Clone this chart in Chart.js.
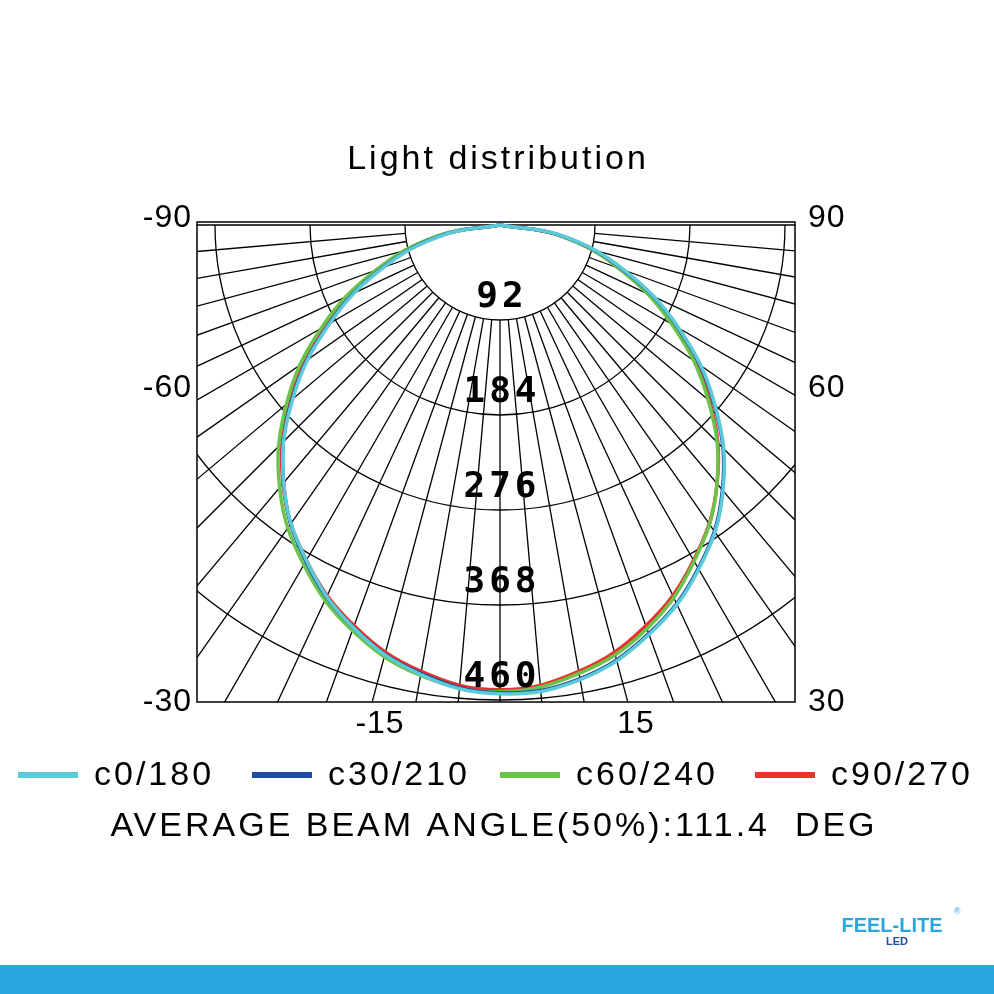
<!DOCTYPE html>
<html><head><meta charset="utf-8">
<script src="https://cdn.jsdelivr.net/npm/chart.js@4"></script>
<style>html,body{margin:0;padding:0;background:#fff}#w{width:994px;height:994px;position:relative}</style>
</head><body><div id="w"><canvas id="c" width="994" height="994"></canvas></div>
<script>
const angles=[-90,-80,-70,-60,-50,-40,-30,-20,-10,0,10,20,30,40,50,60,70,80,90];
const c0_180=[0,56,120,190,262,326,375,415,442,454,447,422,385,336,272,200,128,62,0];
const c30_210=[0,57,121,191,263,326,376,415,441,453,446,421,384,335,271,199,127,61,0];
const c60_240=[0,62,128,200,270,332,380,418,443,452,441,416,376,327,263,192,122,59,0];
const c90_270=[0,59,124,194,265,327,375,413,439,450,439,413,375,327,265,194,124,59,0];
const ringLabels=[92,184,276,368,460];
const leftLabels=['-90','-60','-30'];
const rightLabels=['90','60','30'];
const bottomLabels=['-15','15'];
const names=['c0/180','c30/210','c60/240','c90/270'];
const colors=['#5ccbd9','#1f4ea6','#6cc34a','#e8322b'];
const series=[c0_180,c30_210,c60_240,c90_270];
function toXY(arr){return arr.map((r,i)=>{const t=angles[i]*Math.PI/180;return {x:r*Math.sin(t),y:-r*Math.cos(t)};});}
const K=475/460;
const grid={id:'grid',
beforeDatasetsDraw(ch){const {ctx,chartArea:a,scales:{x,y}}=ch;ctx.save();
ctx.beginPath();ctx.rect(a.left,a.top,a.right-a.left,a.bottom-a.top);ctx.clip();
ctx.strokeStyle='#000';ctx.lineWidth=1.3;
const cx=x.getPixelForValue(0),cy=y.getPixelForValue(0);const pr=v=>x.getPixelForValue(v)-cx;
for(let k=1;k<=7;k++){ctx.beginPath();ctx.arc(cx,cy,pr(92*k),0,Math.PI);ctx.stroke();}
for(let d=-85;d<=85;d+=5){const t=d*Math.PI/180;ctx.beginPath();ctx.moveTo(cx+pr(92)*Math.sin(t),cy+pr(92)*Math.cos(t));ctx.lineTo(cx+pr(900)*Math.sin(t),cy+pr(900)*Math.cos(t));ctx.stroke();}
ctx.beginPath();ctx.moveTo(a.left,cy);ctx.lineTo(a.right,cy);ctx.stroke();
ctx.restore();ctx.save();ctx.strokeStyle='#000';ctx.lineWidth=1.5;ctx.strokeRect(a.left,a.top,a.right-a.left,a.bottom-a.top);ctx.restore();},
afterDatasetsDraw(ch){const {ctx,chartArea:a,scales:{x,y}}=ch;ctx.save();
const cx=x.getPixelForValue(0),cy=y.getPixelForValue(0);
ctx.fillStyle='#000';ctx.textAlign='center';ctx.textBaseline='middle';
ctx.font='bold 36px "DejaVu Sans Mono"';ctx.letterSpacing='4px';
ringLabels.forEach(v=>{const yy=y.getPixelForValue(-v)-22;ctx.fillText(String(v),cx+2,yy);});
ctx.letterSpacing='1px';
ctx.font='32px "Liberation Sans"';
const ys=[a.top-4,388,a.bottom];
ctx.textAlign='right';leftLabels.forEach((t,i)=>ctx.fillText(t,192,ys[i]));
ctx.textAlign='left';rightLabels.forEach((t,i)=>ctx.fillText(t,808,ys[i]));
ctx.textAlign='center';ctx.fillText(bottomLabels[0],380,724);ctx.fillText(bottomLabels[1],636,724);
ctx.letterSpacing='3px';
ctx.font='34px "Liberation Sans"';ctx.fillText('Light distribution',498,160);
ctx.textAlign='left';
const lx=[18,252,500,755];
names.forEach((n,i)=>{ctx.strokeStyle=colors[i];ctx.lineWidth=6;ctx.beginPath();ctx.moveTo(lx[i],775);ctx.lineTo(lx[i]+60,775);ctx.stroke();ctx.fillText(n,lx[i]+76,776);});
ctx.textAlign='center';ctx.fillText('AVERAGE BEAM ANGLE(50%):111.4  DEG',494,827);
ctx.letterSpacing='0px';
ctx.fillStyle='#29a8e0';ctx.fillRect(0,965,994,29);
ctx.font='bold 20px "Liberation Sans"';ctx.fillText('FEEL-LITE',892,926);
ctx.font='bold 11px "Liberation Sans"';ctx.fillStyle='#1f4ea6';ctx.fillText('LED',897,942);
ctx.font='9px "Liberation Sans"';ctx.fillStyle='#29a8e0';ctx.fillText('®',957,912);
ctx.restore();}};
new Chart(document.getElementById('c'),{type:'scatter',
data:{datasets:series.map((s,i)=>({label:names[i],data:toXY(s),showLine:true,borderColor:colors[i],borderWidth:3.5,pointRadius:0,tension:0.4,fill:false}))},
options:{responsive:false,animation:false,events:[],
layout:{padding:{left:197,right:199,top:222,bottom:292}},
plugins:{legend:{display:false},tooltip:{enabled:false}},
scales:{x:{display:false,min:-303/K,max:295/K},y:{display:false,min:-477/K,max:3/K}}},
plugins:[grid]});
</script></body></html>
